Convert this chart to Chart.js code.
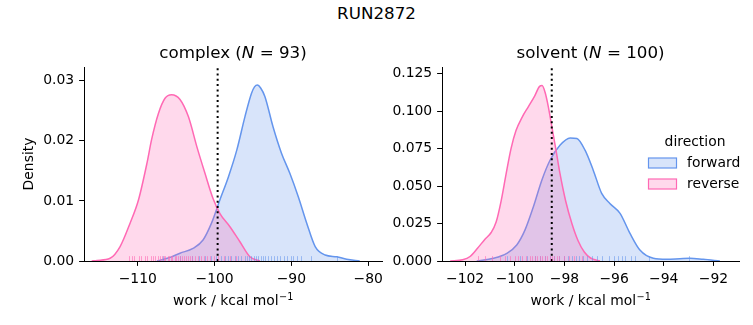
<!DOCTYPE html>
<html><head><meta charset="utf-8">
<script src="https://cdn.jsdelivr.net/npm/chart.js@4.4.1/dist/chart.umd.min.js"></script>
<style>
html,body{margin:0;padding:0;background:#fff;}
#wrap{position:relative;width:753px;height:325px;overflow:hidden;font-family:"DejaVu Sans";}
#sup{position:absolute;left:0;top:3px;width:753px;text-align:center;font-size:16.7px;line-height:20px;color:#000;}
canvas{position:absolute;top:0;}
</style></head><body>
<div id="wrap">
<div id="sup">RUN2872</div>
<canvas id="c1" width="400" height="325" style="left:0;width:400px;height:325px"></canvas>
<canvas id="c2" width="370" height="325" style="left:383px;width:370px;height:325px"></canvas>
</div>
<script>
// ---------- data ----------
const seriesNames = ["forward", "reverse"];
const xAxisLabel = ["work / kcal mol", "\u22121"];   // base text, superscript

// complex leg (N = 93)
const complexForwardX = [-107.5,-105.8,-104.5,-102.8,-101.5,-100.4,-99.3,-98.2,-97.1,-96.05,-95.2,-94.8,-94.4,-94.0,-93.45,-92.4,-91.3,-90.2,-89.1,-88.0,-86.9,-85.6,-84.1,-82.8,-81.1];
const complexForwardY = [0,0.0006,0.0013,0.0021,0.0035,0.0063,0.0102,0.014,0.0185,0.024,0.0279,0.0290,0.0293,0.0288,0.0274,0.0224,0.018,0.0146,0.0107,0.0063,0.0024,0.001,0.0007,0.0003,0];
const complexReverseX = [-116.0,-115.3,-113.6,-112.3,-111.0,-109.9,-108.8,-108.2,-107.3,-106.45,-105.6,-104.5,-103.4,-102.3,-101.25,-100.2,-99.3,-98.0,-96.7,-95.4,-94.1];
const complexReverseY = [0,0.0001,0.00045,0.0024,0.0063,0.0102,0.0163,0.0202,0.0246,0.0271,0.0277,0.0269,0.024,0.019,0.0146,0.0104,0.0079,0.0057,0.0032,0.0007,0];
const complexForwardRug = [-106.7,-104.5,-103.0,-102.0,-101.2,-100.5,-99.8,-99.2,-98.7,-98.2,-97.8,-97.3,-96.9,-96.5,-96.1,-95.8,-95.5,-95.2,-94.9,-94.6,-94.3,-94.0,-93.7,-93.4,-93.1,-92.7,-92.3,-91.9,-91.5,-91.0,-90.6,-90.1,-89.8,-89.3,-88.7,-87.4,-84.1];
const complexReverseRug = [-111.2,-110.8,-110.5,-109.9,-109.6,-109.1,-108.8,-108.3,-108.0,-107.7,-107.4,-107.1,-106.9,-106.6,-106.4,-106.1,-105.9,-105.7,-105.5,-105.2,-105.0,-104.8,-104.5,-104.3,-104.0,-103.7,-103.5,-103.2,-102.9,-102.5,-102.2,-101.8,-101.4,-101.0,-100.6,-100.1,-99.5,-98.8,-98.0,-97.2];
const complexRef = -99.6;
const complexXRange = [-117.0, -78.2];
const complexYMax = 0.0323;
const complexXTicks = [-110, -100, -90, -80];
const complexYTicks = [0, 0.01, 0.02, 0.03];

// solvent leg (N = 100)
const solventForwardX = [-101.53,-100.86,-100.32,-99.92,-99.59,-99.25,-98.91,-98.58,-98.18,-97.77,-97.5,-97.17,-96.84,-96.5,-96.17,-95.76,-95.36,-94.96,-94.42,-93.88,-93.35,-92.95,-92.41,-91.74];
const solventForwardY = [0,0.0018,0.0051,0.0107,0.0206,0.0362,0.0539,0.0672,0.0772,0.0821,0.0817,0.0739,0.0606,0.0451,0.0384,0.0318,0.0184,0.0073,0.0018,0.0011,0.0015,0.0018,0.0011,0];
const solventReverseX = [-102.6,-102.1,-101.8,-101.5,-101.2,-100.95,-100.75,-100.55,-100.35,-100.15,-99.95,-99.7,-99.45,-99.2,-99.0,-98.9,-98.78,-98.65,-98.5,-98.35,-98.18,-97.95,-97.7,-97.45,-97.2,-96.95,-96.57];
const solventReverseY = [0,0.0008,0.003,0.0085,0.0145,0.019,0.026,0.04,0.058,0.075,0.087,0.096,0.103,0.110,0.1165,0.117,0.1125,0.103,0.089,0.075,0.0584,0.040,0.025,0.0135,0.006,0.002,0];
const solventForwardRug = [-100.3,-99.8,-99.5,-99.2,-99.0,-98.8,-98.6,-98.4,-98.2,-98.0,-97.85,-97.7,-97.55,-97.4,-97.25,-97.1,-96.9,-96.7,-96.5,-96.2,-96.0,-95.85,-95.7,-95.55,-95.3,-95.15,-94.6,-93.0];
const solventReverseRug = [-101.5,-101.2,-100.9,-100.6,-100.4,-100.2,-100.0,-99.85,-99.7,-99.55,-99.4,-99.3,-99.2,-99.1,-99.0,-98.9,-98.8,-98.7,-98.6,-98.5,-98.4,-98.3,-98.2,-98.0,-97.8,-97.6,-97.3];
const solventRef = -98.51;
const solventXRange = [-102.93, -90.97];
const solventYMax = 0.1294;
const solventXTicks = [-102, -100, -98, -96, -94, -92];
const solventYTicks = [0, 0.025, 0.05, 0.075, 0.1, 0.125];

// ---------- styling ----------
const BLUE = "rgb(100,149,237)", BLUE_F = "rgba(100,149,237,0.25)", BLUE_R = "rgba(100,149,237,0.55)";
const PINK = "rgb(255,105,180)", PINK_F = "rgba(255,105,180,0.25)", PINK_R = "rgba(255,105,180,0.6)";
const FONT = "DejaVu Sans";
Chart.defaults.font.family = FONT;
Chart.defaults.font.size = 13.9;
Chart.defaults.color = "#000";

const pts = (xs, ys) => xs.map((x, i) => ({x: x, y: ys[i]}));

const rugPlugin = {
  id: "rug",
  afterDatasetsDraw(chart, args, opts) {
    const {ctx, chartArea} = chart;
    const xs = chart.scales.x;
    const h = (chartArea.bottom - chartArea.top) * 0.025;
    ctx.save();
    ctx.beginPath();
    ctx.rect(chartArea.left, chartArea.top, chartArea.right - chartArea.left, chartArea.bottom - chartArea.top);
    ctx.clip();
    (opts.sets || []).forEach(s => {
      ctx.strokeStyle = s.color;
      ctx.lineWidth = 1;
      s.values.forEach(v => {
        const px = Math.round(xs.getPixelForValue(v)) + 0.5;
        ctx.beginPath();
        ctx.moveTo(px, chartArea.bottom);
        ctx.lineTo(px, chartArea.bottom - h);
        ctx.stroke();
      });
    });
    ctx.restore();
  }
};

const textPlugin = {
  id: "mixedText",
  afterDraw(chart, args, opts) {
    const {ctx, chartArea} = chart;
    const cx = (chartArea.left + chartArea.right) / 2;
    ctx.save();
    ctx.textBaseline = "alphabetic";
    ctx.fillStyle = "#000";
    // subplot title with italic N
    const size = 16.7;
    let total = 0;
    opts.titleParts.forEach(p => {
      ctx.font = (p.italic ? "italic " : "") + size + "px " + FONT;
      p.w = ctx.measureText(p.text).width;
      total += p.w;
    });
    let x = cx - total / 2;
    opts.titleParts.forEach(p => {
      ctx.font = (p.italic ? "italic " : "") + size + "px " + FONT;
      ctx.fillText(p.text, x, 58);
      x += p.w;
    });
    // x-axis label with superscript
    const base = xAxisLabel[0], sup = xAxisLabel[1];
    ctx.font = "13.9px " + FONT;
    const bw = ctx.measureText(base).width;
    ctx.font = "9.7px " + FONT;
    const sw = ctx.measureText(sup).width;
    let lx = cx - (bw + sw) / 2;
    const by = 305;
    ctx.font = "13.9px " + FONT;
    ctx.fillText(base, lx, by);
    ctx.font = "9.7px " + FONT;
    ctx.fillText(sup, lx + bw + 0.5, by - 5.5);
    ctx.restore();
  }
};

const legendPlugin = {
  id: "dirLegend",
  afterDraw(chart, args, opts) {
    if (!opts.show) return;
    const ctx = chart.ctx;
    const ox = opts.x, oy = opts.y;
    ctx.save();
    ctx.font = "13.9px " + FONT;
    ctx.fillStyle = "#000";
    ctx.textBaseline = "middle";
    ctx.textAlign = "center";
    ctx.fillText(opts.title, ox + 47, oy);
    ctx.textAlign = "left";
    opts.items.forEach((it, i) => {
      const y = oy + 21 + i * 21;
      ctx.fillStyle = it.fill;
      ctx.fillRect(ox + 0.5, y - 5, 28, 10);
      ctx.strokeStyle = it.line;
      ctx.lineWidth = 1.2;
      ctx.strokeRect(ox + 0.5, y - 5, 28, 10);
      ctx.fillStyle = "#000";
      ctx.fillText(it.label, ox + 39, y);
    });
    ctx.restore();
  }
};

function makeChart(id, cfg) {
  const fmtX = v => String(v).replace("-", "\u2212");
  return new Chart(document.getElementById(id), {
    type: "line",
    data: {
      datasets: [
        {label: seriesNames[1], data: pts(cfg.revX, cfg.revY), borderColor: PINK, backgroundColor: PINK_F, fill: "origin", borderWidth: 1.5, pointRadius: 0, cubicInterpolationMode: "monotone"},
        {label: seriesNames[0], data: pts(cfg.fwdX, cfg.fwdY), borderColor: BLUE, backgroundColor: BLUE_F, fill: "origin", borderWidth: 1.5, pointRadius: 0, cubicInterpolationMode: "monotone"},
        {label: "ref", data: [{x: cfg.ref, y: 0}, {x: cfg.ref, y: cfg.yMax}], borderColor: "#000", borderWidth: 2, borderDash: [2, 3.3], borderCapStyle: "butt", pointRadius: 0, fill: false, order: -1}
      ]
    },
    options: {
      responsive: false,
      animation: false,
      events: [],
      layout: {padding: {top: 67, left: cfg.padLeft, right: cfg.padRight, bottom: 0}},
      plugins: {
        legend: {display: false},
        tooltip: {enabled: false},
        rug: {sets: [{values: cfg.fwdRug, color: BLUE_R}, {values: cfg.revRug, color: PINK_R}]},
        mixedText: {titleParts: cfg.titleParts},
        dirLegend: cfg.legend || {show: false}
      },
      scales: {
        x: {
          type: "linear", min: cfg.xRange[0], max: cfg.xRange[1],
          afterFit: s => { s.height = 64; },
          afterBuildTicks: s => { s.ticks = cfg.xTicks.map(v => ({value: v})); },
          grid: {drawOnChartArea: false, drawTicks: true, tickLength: 4.9, color: "#000", lineWidth: 1},
          border: {display: true, color: "#000", width: 1},
          ticks: {padding: 4.9, maxRotation: 0, autoSkip: false, includeBounds: false, callback: v => fmtX(v)},
          title: {display: false}
        },
        y: {
          type: "linear", min: 0, max: cfg.yMax,
          afterFit: s => { s.width = cfg.yW; },
          afterBuildTicks: s => { s.ticks = cfg.yTicks.map(v => ({value: v})); },
          grid: {drawOnChartArea: false, drawTicks: true, tickLength: 4.9, color: "#000", lineWidth: 1},
          border: {display: true, color: "#000", width: 1},
          ticks: {padding: 4.9, autoSkip: false, includeBounds: false, callback: v => Number(v).toFixed(cfg.dec)},
          title: {display: cfg.yTitle !== "", text: cfg.yTitle, font: {size: 13.9}, padding: {top: 21, bottom: 0}}
        }
      }
    },
    plugins: [rugPlugin, textPlugin, legendPlugin]
  });
}

makeChart("c1", {
  fwdX: complexForwardX, fwdY: complexForwardY, revX: complexReverseX, revY: complexReverseY,
  fwdRug: complexForwardRug, revRug: complexReverseRug, ref: complexRef,
  xRange: complexXRange, yMax: complexYMax, xTicks: complexXTicks, yTicks: complexYTicks, dec: 2,
  padLeft: 0, padRight: 18, yW: 84, yTitle: "Density",
  titleParts: [{text: "complex ("}, {text: "N", italic: true}, {text: " = 93)"}]
});

makeChart("c2", {
  fwdX: solventForwardX, fwdY: solventForwardY, revX: solventReverseX, revY: solventReverseY,
  fwdRug: solventForwardRug, revRug: solventReverseRug, ref: solventRef,
  xRange: solventXRange, yMax: solventYMax, xTicks: solventXTicks, yTicks: solventYTicks, dec: 3,
  padLeft: 0, padRight: 14, yW: 59, yTitle: "",
  titleParts: [{text: "solvent ("}, {text: "N", italic: true}, {text: " = 100)"}],
  legend: {show: true, x: 648 - 383, y: 142, title: "direction",
    items: [{label: seriesNames[0], fill: BLUE_F, line: BLUE}, {label: seriesNames[1], fill: PINK_F, line: PINK}]}
});
</script>
</body></html>
